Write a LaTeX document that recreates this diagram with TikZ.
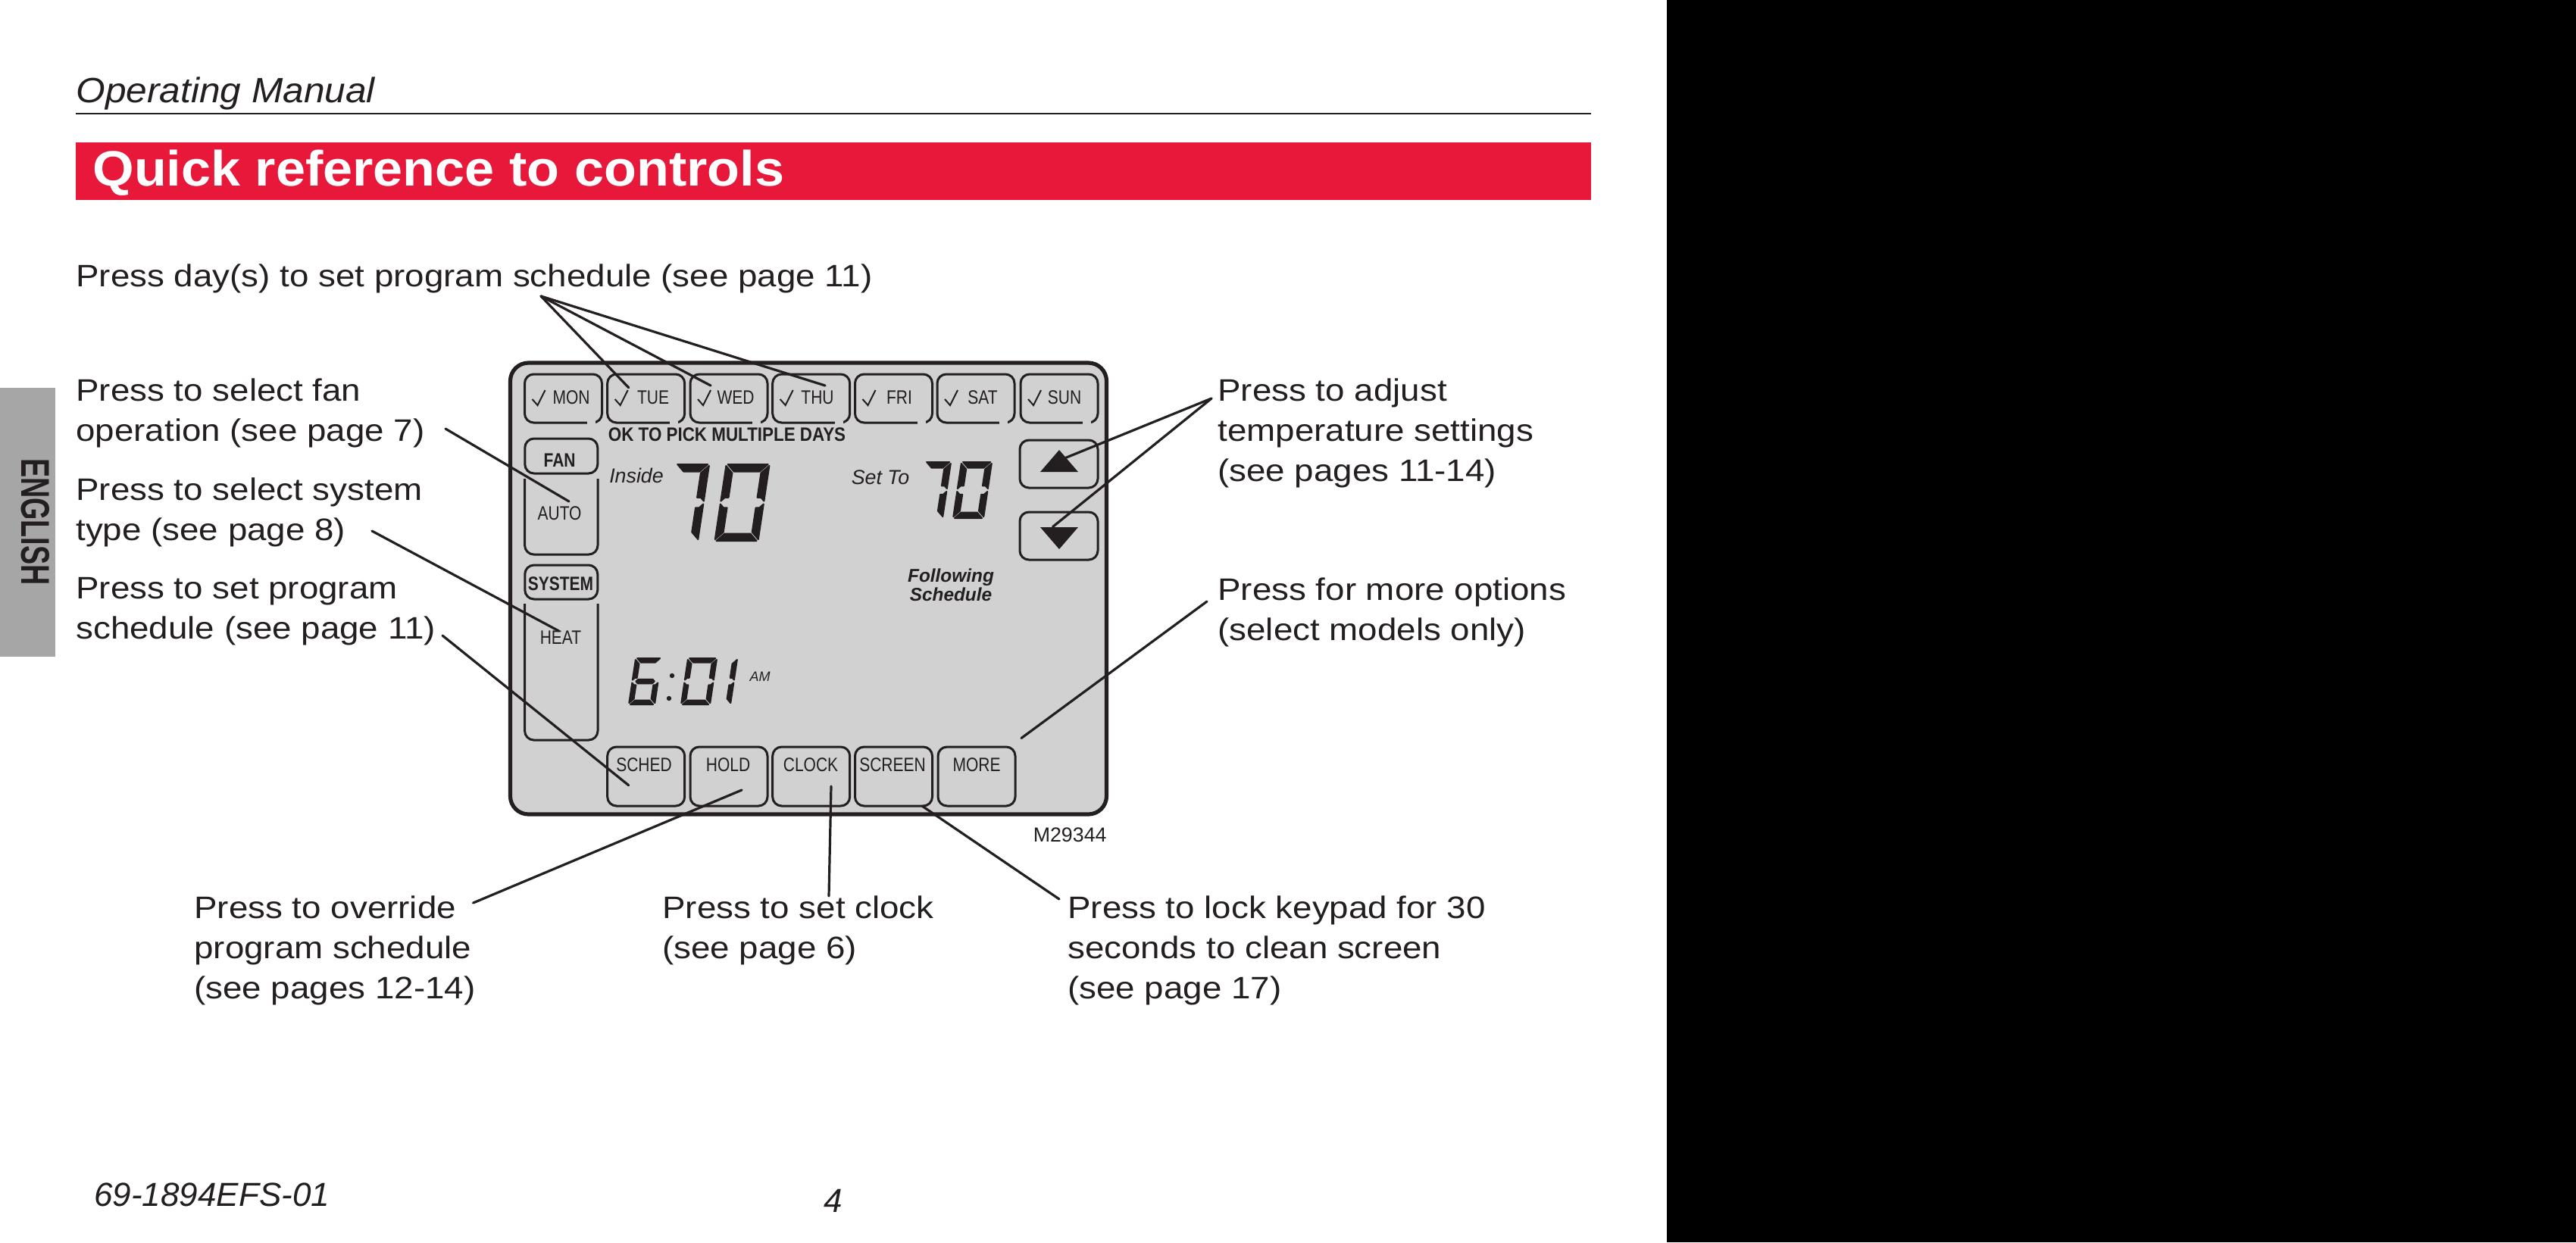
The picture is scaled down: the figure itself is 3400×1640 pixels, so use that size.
\documentclass[tikz,border=0pt]{standalone}
\usepackage{fontspec}
\setmainfont{Liberation Sans}
\newfontfamily\narrowf[FakeStretch=0.82]{Liberation Sans}
\newfontfamily\multif[FakeStretch=0.875]{Liberation Sans}
\newfontfamily\tabf[FakeStretch=0.71]{Liberation Sans}
\newfontfamily\bodyf[FakeStretch=1.115]{Liberation Sans}
\newfontfamily\headf[FakeStretch=1.07]{Liberation Sans}
\definecolor{ink}{HTML}{231F20}
\definecolor{lcd}{HTML}{D1D1D1}
\definecolor{redband}{HTML}{E8183A}
\definecolor{tabgray}{HTML}{A6A6A6}
\newcommand\bodyfont{\bodyf\fontsize{20.5}{26.5}\selectfont}
\newcommand\lcdfont{\narrowf\fontsize{12.8}{15}\selectfont}
% seven-segment parts, in a box W x H, origin at bottom left
\newcommand\segA{\path[seg] (\G,-\H) -- (\W-\G,-\H) -- (\W-\G-\T,-\H+\T) -- (\G+\T,-\H+\T) -- cycle;}
\newcommand\segD{\path[seg] (\G,0) -- (\W-\G,0) -- (\W-\G-\T,-\T) -- (\G+\T,-\T) -- cycle;}
\newcommand\segB{\path[seg] (\W,-\H+\G) -- (\W,-\H/2-\G) -- (\W-\T/2,-\H/2-\G-\T/2) -- (\W-\T,-\H/2-\G-\T/2) -- (\W-\T,-\H+\G+\T) -- cycle;}
\newcommand\segC{\path[seg] (\W,-\G) -- (\W,-\H/2+\G) -- (\W-\T/2,-\H/2+\G+\T/2) -- (\W-\T,-\H/2+\G+\T/2) -- (\W-\T,-\G-\T) -- cycle;}
\newcommand\segF{\path[seg] (0,-\H+\G) -- (0,-\H/2-\G) -- (\T/2,-\H/2-\G-\T/2) -- (\T,-\H/2-\G-\T/2) -- (\T,-\H+\G+\T) -- cycle;}
\newcommand\segE{\path[seg] (0,-\G) -- (0,-\H/2+\G) -- (\T/2,-\H/2+\G+\T/2) -- (\T,-\H/2+\G+\T/2) -- (\T,-\G-\T) -- cycle;}
\newcommand\segM{\path[seg] (\G+\T/2,-\H/2) -- (\G+\T,-\H/2-\T/2) -- (\W-\G-\T,-\H/2-\T/2) -- (\W-\G-\T/2,-\H/2) -- (\W-\G-\T,-\H/2+\T/2) -- (\G+\T,-\H/2+\T/2) -- cycle;}
% \digit{x}{bottom y}{W}{H}{thickness}{segment macros}
\newcommand\digit[6]{\begin{scope}[shift={(#1,#2)},xslant=0.15]\def\W{#3}\def\H{#4}\def\T{#5}\def\G{2}#6\end{scope}}
\tikzset{
  x=0.5pt,y=-0.5pt,
  seg/.style={fill=ink,draw=ink,line width=1pt,line join=round},
  txt/.style={anchor=base west,inner sep=0pt,text=ink,font=\bodyfont,align=left},
  lead/.style={draw=ink,line width=1.6pt,line cap=round},
  lcdbtn/.style={draw=ink,line width=1.5pt,rounded corners=6pt,inner sep=0pt,fill=lcd},
  daybtn/.style={lcdbtn,minimum width=51pt,minimum height=32pt},
  softbtn/.style={lcdbtn,minimum width=51pt,minimum height=39pt},
  arrowbtn/.style={lcdbtn,minimum width=51.5pt,minimum height=31.5pt},
  lcdtxt/.style={inner sep=0pt,text=ink,font=\lcdfont},
  lcdbold/.style={inner sep=0pt,text=ink,font=\lcdfont\bfseries},
  lcdital/.style={inner sep=0pt,text=ink,font=\fontsize{13.4}{15}\selectfont\itshape},
  tick/.style={draw=ink,line width=1pt},
  gapmark/.style={draw=lcd,line width=2.4pt},
}
\newcommand\daybutton[4]{% name, centre x, label x, label
  \node[daybtn] (#1) at (#2,526) {};
  \draw[gapmark] (#2+31,558) -- (#2+42,558);
  \draw[tick] (#2-41,527) -- (#2-34,535) -- (#2-24,515);
  \node[lcdtxt] (#1T) at (#3,525) {#4};
}
\begin{document}
\begin{tikzpicture}
\useasboundingbox (0,0) rectangle (3400,1640);
\fill[white] (0,0) rectangle (3400,1640);
\fill[black] (2200,0) rectangle (3400,1640);
% page head
\node[txt,font=\headf\fontsize{23.2}{27}\selectfont\itshape] (head) at (100,135) {Operating Manual};
\coordinate (ruleL) at (100,150);
\coordinate (ruleR) at (2100,150);
\draw[ink,line width=1pt] (ruleL) -- (ruleR);
\fill[redband] (100,188) rectangle (2100,264);
\node[anchor=base west,inner sep=0pt,text=white,font=\headf\fontsize{32.8}{36}\selectfont\bfseries] (title) at (122,245) {Quick reference to controls};
% side tab
\fill[tabgray] (0,512) rectangle (73,867);
\node[inner sep=0pt,rotate=-90,text=ink,font=\tabf\fontsize{26.5}{30}\selectfont\bfseries] (tab) at (47,689) {ENGLISH};
% device
\node[draw=ink,line width=2.6pt,fill=lcd,rounded corners=12pt,minimum width=393.5pt,minimum height=298pt,inner sep=0pt] (device) at (1067,777) {};
\daybutton{mon}{743.5}{754}{MON}
\daybutton{tue}{852.7}{862}{TUE}
\daybutton{wed}{962}{971}{WED}
\daybutton{thu}{1070.7}{1079}{THU}
\daybutton{fri}{1179.5}{1187}{FRI}
\daybutton{sat}{1288}{1297}{SAT}
\daybutton{sun}{1398}{1405}{SUN}
\node[inner sep=0pt,text=ink,font=\multif\fontsize{12.8}{15}\selectfont\bfseries,anchor=west] (multi) at (802.5,574) {OK TO PICK MULTIPLE DAYS};
% fan and system
\node[lcdbtn,minimum width=48pt,minimum height=23pt] (fan) at (740.8,602) {};
\node[lcdbold] (fanT) at (738.6,608) {FAN};
\draw[ink,line width=1.5pt,rounded corners=6pt] (692.6,632) -- (692.6,732) -- (789,732) -- (789,632);
\node[lcdtxt] (auto) at (738.6,678) {AUTO};
\node[lcdbtn,minimum width=48pt,minimum height=22.5pt] (system) at (740.8,768.5) {};
\node[lcdbold] (systemT) at (740,771) {SYSTEM};
\draw[ink,line width=1.5pt,rounded corners=6pt] (692.6,797) -- (692.6,977) -- (789,977) -- (789,797);
\node[lcdtxt] (heat) at (740,842) {HEAT};
% readouts
\node[lcdital] (inside) at (840,628) {Inside};
\node[lcdital] (setto) at (1162,630) {Set To};
\digit{877}{714}{44}{101}{9.5}{\segA\segB\segC}
\digit{943.5}{714}{57}{101}{9.5}{\segA\segB\segC\segD\segE\segF}
\digit{1210}{684}{34}{74}{7.5}{\segA\segB\segC}
\digit{1258}{684}{40}{74}{7.5}{\segA\segB\segC\segD\segE\segF}
\digit{830}{930}{34}{61}{5.5}{\segA\segC\segD\segE\segF\segM}
\digit{899}{930}{38}{61}{5.5}{\segA\segB\segC\segD\segE\segF}
\digit{957}{930}{7}{61}{5.5}{\segB\segC}
\fill[ink] (887,892) circle (3.2) (883,922) circle (3.2);
\node[lcdital,font=\fontsize{9}{10}\selectfont\itshape] (am) at (1003,893) {AM};
\node[inner sep=0pt,text=ink,font=\fontsize{12.2}{12.5}\selectfont\bfseries\itshape,align=center] (follow) at (1255,772) {Following\\Schedule};
% arrows
\node[arrowbtn] (upb) at (1397.5,612.5) {};
\node[arrowbtn] (downb) at (1397.5,707.5) {};
\fill[ink] (1398,594) -- (1423,623) -- (1373,623) -- cycle;
\fill[ink] (1398,725) -- (1423,696) -- (1373,696) -- cycle;
% soft keys
\node[softbtn] (sched) at (852.7,1025) {};
\node[softbtn] (hold) at (962,1025) {};
\node[softbtn] (clock) at (1070.7,1025) {};
\node[softbtn] (screen) at (1179.5,1025) {};
\node[softbtn] (more) at (1289,1025) {};
\node[lcdtxt] (schedT) at (850,1010) {SCHED};
\node[lcdtxt] (holdT) at (961,1010) {HOLD};
\node[lcdtxt] (clockT) at (1070,1010) {CLOCK};
\node[lcdtxt] (screenT) at (1178,1010) {SCREEN};
\node[lcdtxt] (moreT) at (1289,1010) {MORE};
\node[inner sep=0pt,text=ink,font=\fontsize{13.4}{15}\selectfont,anchor=east] (model) at (1461,1102) {M29344};
% labels (the y is the baseline of the last line)
\node[txt] (days) at (100,378) {Press day(s) to set program schedule (see page 11)};
\node[txt] (fanL) at (100,582.5) {Press to select fan\\operation (see page 7)};
\node[txt] (sysL) at (100,713) {Press to select system\\type (see page 8)};
\node[txt] (schL) at (100,843) {Press to set program\\schedule (see page 11)};
\node[txt] (adjL) at (1607,635) {Press to adjust\\temperature settings\\(see pages 11-14)};
\node[txt] (moreL) at (1607,845) {Press for more options\\(select models only)};
\node[txt] (holdL) at (256,1318) {Press to override\\program schedule\\(see pages 12-14)};
\node[txt] (clockL) at (874,1265) {Press to set clock\\(see page 6)};
\node[txt] (scrL) at (1409,1318) {Press to lock keypad for 30\\seconds to clean screen\\(see page 17)};
\node[txt,font=\fontsize{22}{26}\selectfont\itshape] (doc) at (124,1592) {69-1894EFS-01};
\node[txt,font=\fontsize{22}{26}\selectfont\itshape] (pageno) at (1087,1600) {4};
% leaders
\coordinate (dayO) at (714,391);
\coordinate (tueE) at (829.7,511.7);
\coordinate (wedE) at (938,509);
\coordinate (thuE) at (1089,509);
\draw[lead] (dayO) -- (tueE);
\draw[lead] (dayO) -- (wedE);
\draw[lead] (dayO) -- (thuE);
\coordinate (fanO) at (588,566); \coordinate (fanE) at (751,662);
\draw[lead] (fanO) -- (fanE);
\coordinate (sysO) at (491,701); \coordinate (sysE) at (737.6,833);
\draw[lead] (sysO) -- (sysE);
\coordinate (schO) at (584,839); \coordinate (schE) at (829.7,1036.7);
\draw[lead] (schO) -- (schE);
\coordinate (holdO) at (624.5,1192); \coordinate (holdE) at (979,1043);
\draw[lead] (holdO) -- (holdE);
\coordinate (clkO) at (1094,1183); \coordinate (clkE) at (1097,1038);
\draw[lead] (clkO) -- (clkE);
\coordinate (scrO) at (1398,1187); \coordinate (scrE) at (1217,1064);
\draw[lead] (scrO) -- (scrE);
\coordinate (adjO) at (1599,526); \coordinate (upE) at (1405,605); \coordinate (dnE) at (1389.5,695.5);
\draw[lead] (adjO) -- (upE);
\draw[lead] (adjO) -- (dnE);
\coordinate (morO) at (1593,794); \coordinate (morE) at (1348,974.5);
\draw[lead] (morO) -- (morE);
\end{tikzpicture}
\end{document}
